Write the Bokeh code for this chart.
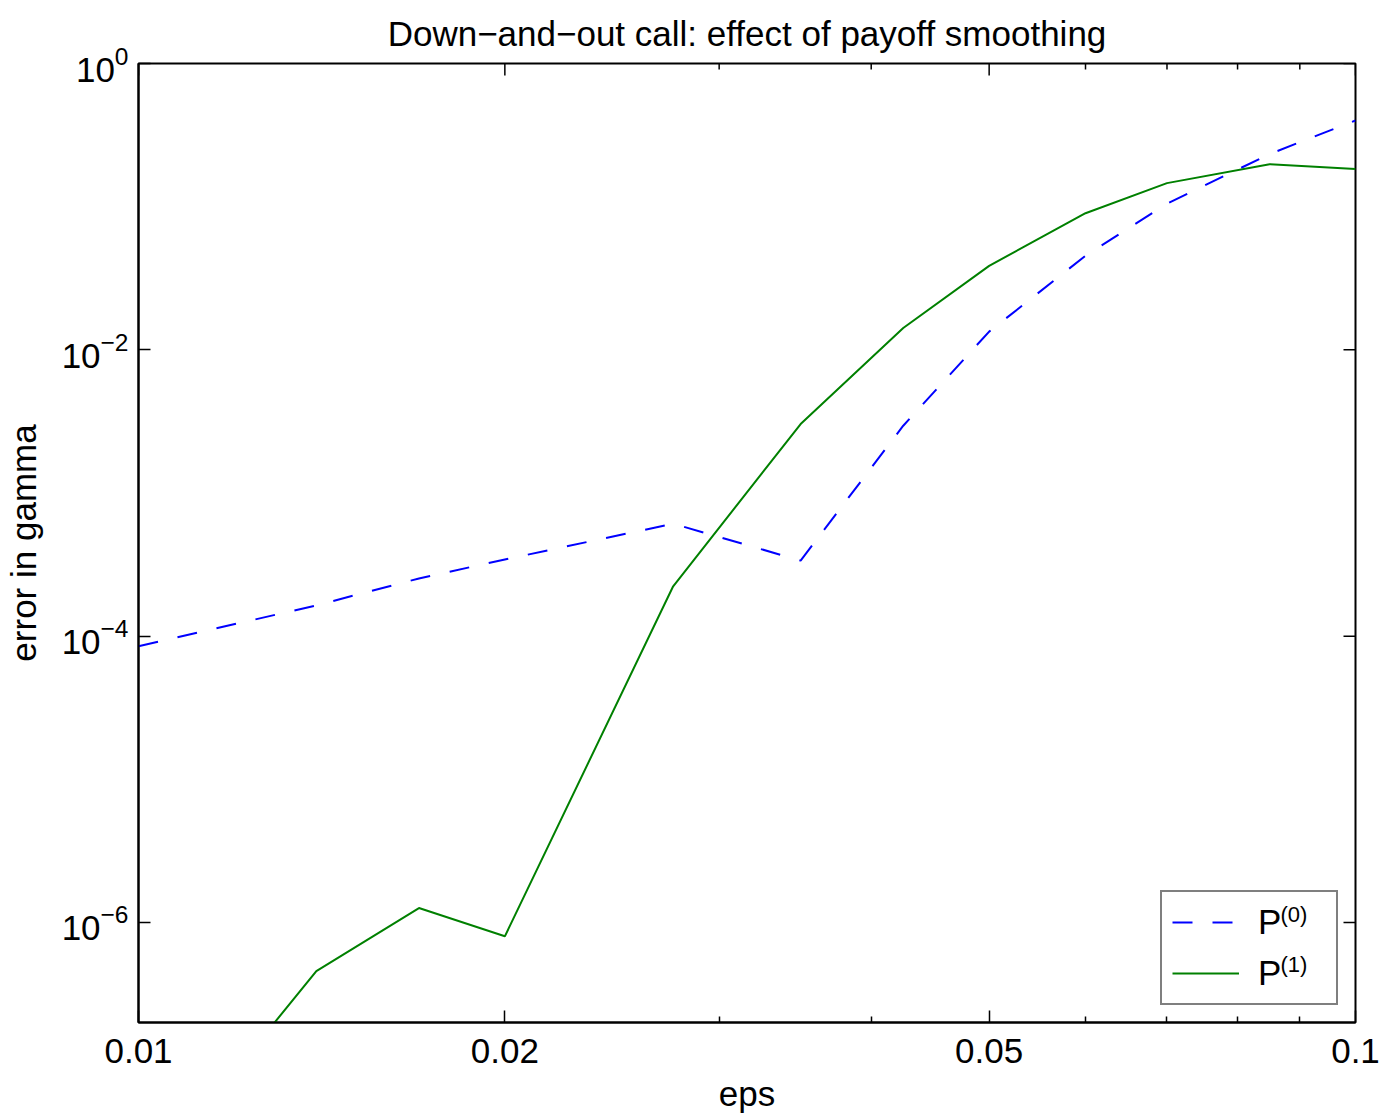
import math
from bokeh.plotting import figure
from bokeh.models import Range1d, FixedTicker, Legend, LegendItem, Label, LogTickFormatter
from bokeh.embed import file_html
from bokeh.resources import INLINE

# ---- data ----
eps = [0.01, 0.014, 0.017, 0.02, 0.0275, 0.035, 0.0425, 0.05, 0.06, 0.07, 0.085, 0.1]
err_p0 = [8.5e-5, 1.64e-4, 2.53e-4, 3.43e-4, 6.1e-4, 3.37e-4, 2.95e-3, 1.34e-2, 4.54e-2, 0.105, 0.233, 0.40]
err_p1 = [1.35e-8, 4.57e-7, 1.26e-6, 8.0e-7, 2.23e-4, 3.03e-3, 1.42e-2, 3.86e-2, 9.0e-2, 0.146, 0.198, 0.183]

x_ticks = [0.01, 0.02, 0.05, 0.1]
x_tick_labels = ["0.01", "0.02", "0.05", "0.1"]
x_minor_ticks = [0.03, 0.04, 0.06, 0.07, 0.08, 0.09]
y_ticks = [1e-6, 1e-4, 1e-2, 1.0]   # labelled as powers of ten: 10^-6 ... 10^0

series_base = ["P", "P"]
series_sup = ["(0)", "(1)"]
title_text = "Down\u2212and\u2212out call: effect of payoff smoothing"
x_label = "eps"
y_label = "error in gamma"

X_MIN, X_MAX = 0.01, 0.1
Y_MIN, Y_MAX = 2e-7, 1.0

FRAME_W, FRAME_H = 1217, 959
FONT = "Liberation Sans"
FS = "35px"
FS_SUP = "22px"

p = figure(
    x_axis_type="log", y_axis_type="log",
    x_range=Range1d(X_MIN, X_MAX), y_range=Range1d(Y_MIN, Y_MAX),
    frame_width=FRAME_W, frame_height=FRAME_H,
    min_border_left=138, min_border_right=26, min_border_top=63, min_border_bottom=94,
    output_backend="svg", toolbar_location=None, title=title_text,
    background_fill_color="white", border_fill_color="white",
)
p.xgrid.visible = False
p.ygrid.visible = False
p.outline_line_color = "black"
p.outline_line_width = 2

p.title.align = "center"
p.title.vertical_align = "bottom"
p.title.text_font = FONT
p.title.text_font_size = FS
p.title.text_font_style = "normal"
p.title.text_color = "black"
p.title.standoff = 22

xt = FixedTicker(ticks=x_ticks, minor_ticks=x_minor_ticks)
yt = FixedTicker(ticks=y_ticks, minor_ticks=[])


def style_axis(ax):
    ax.axis_line_color = "black"
    ax.axis_line_width = 2
    ax.major_tick_in = 12
    ax.major_tick_out = 0
    ax.minor_tick_in = 6
    ax.minor_tick_out = 0
    ax.major_tick_line_width = 1.5
    ax.minor_tick_line_width = 1.5
    ax.major_tick_line_color = "black"
    ax.minor_tick_line_color = "black"
    ax.major_label_text_font = FONT
    ax.major_label_text_font_size = FS
    ax.major_label_text_color = "black"
    ax.axis_label_text_font = FONT
    ax.axis_label_text_font_size = FS
    ax.axis_label_text_font_style = "normal"
    ax.axis_label_text_color = "black"


xa = p.below[0]
xa.ticker = xt
xa.major_label_overrides = dict(zip(x_ticks, x_tick_labels))
xa.axis_label = x_label
xa.major_label_standoff = 16
xa.axis_label_standoff = 8
style_axis(xa)

ya = p.left[0]
ya.ticker = yt
ya.formatter = LogTickFormatter()
ya.axis_label = y_label
ya.major_label_standoff = 10
ya.axis_label_standoff = 16
style_axis(ya)

# inward ticks on the top and right edges of the box
p.ray(x=x_ticks, y=[Y_MAX] * len(x_ticks), length=12, length_units="screen",
      angle=-math.pi / 2, line_color="black", line_width=1.5)
p.ray(x=x_minor_ticks, y=[Y_MAX] * len(x_minor_ticks), length=6, length_units="screen",
      angle=-math.pi / 2, line_color="black", line_width=1.5)
p.ray(x=[X_MAX] * len(y_ticks), y=y_ticks, length=12, length_units="screen",
      angle=math.pi, line_color="black", line_width=1.5)

r0 = p.line(eps, err_p0, line_color="#0000ff", line_width=2, line_dash="20 20")
r1 = p.line(eps, err_p1, line_color="#008000", line_width=2)

legend = Legend(
    items=[LegendItem(label=series_base[0], renderers=[r0]),
           LegendItem(label=series_base[1], renderers=[r1])],
    location="bottom_right",
    margin=17, padding=10, spacing=11,
    glyph_width=67, glyph_height=36, label_height=36, label_width=68, label_standoff=19,
    label_text_font=FONT, label_text_font_size=FS, label_text_color="black",
    border_line_color="black", border_line_width=2,
    background_fill_color="white", background_fill_alpha=0.0,
)
p.add_layout(legend)

# superscripts of the legend labels (frame-relative screen position)
for sup, ysc in zip(series_sup, [108, 58]):
    p.add_layout(Label(x=FRAME_W - 75, y=ysc, x_units="screen", y_units="screen", text=sup,
                       text_align="left", text_baseline="alphabetic",
                       text_font=FONT, text_font_size=FS_SUP, text_color="black"))

open("out.html", "w").write(file_html(p, INLINE))
